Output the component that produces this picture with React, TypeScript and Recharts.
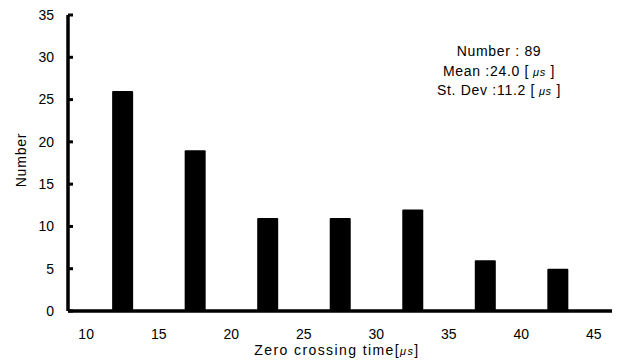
import { BarChart, Bar, XAxis, YAxis, ReferenceLine, Customized } from "recharts";

// Histogram bins (bin centres, µs) and their counts
const binCenters = [12.5, 17.5, 22.5, 27.5, 32.5, 37.5, 42.5];
const counts = [26, 19, 11, 11, 12, 6, 5];
const xTicks = [10, 15, 20, 25, 30, 35, 40, 45];
const yTicks = [0, 5, 10, 15, 20, 25, 30, 35];
const statLines = [
  { label: "Number : 89", unit: false },
  { label: "Mean :24.0 [", unit: true },
  { label: "St. Dev :11.2 [", unit: true },
];

const X_MIN = 8.75;
const X_MAX = 46.25;

const data = binCenters.map((x, i) => ({ x, count: counts[i] }));

const FONT = "'Liberation Sans', Arial, sans-serif";
const tickStyle = { fontSize: 14, fontFamily: FONT, fill: "#000" };

// y tick: label on the left, short tick mark pointing into the plot
const YTick = (props: any) => {
  const { x, y, payload } = props;
  const axisX = x + 14;
  return (
    <g>
      <line x1={axisX} x2={axisX + 5} y1={y} y2={y} stroke="#000" strokeWidth={3} />
      <text x={x} y={y} dy="0.35em" textAnchor="end" {...tickStyle}>
        {payload.value}
      </text>
    </g>
  );
};

const Annotations = () => (
  <g fontFamily={FONT} fill="#000">
    {statLines.map((s, i) => (
      <text
        key={i}
        x={499}
        y={56 + i * 19.5}
        textAnchor="middle"
        fontSize={14}
        letterSpacing={0.7}
      >
        {s.label}
        {s.unit && (
          <>
            <tspan fontStyle="italic" fontSize={11}> μs</tspan>
            <tspan> ]</tspan>
          </>
        )}
      </text>
    ))}
    <text x={337} y={355} textAnchor="middle" fontSize={14} letterSpacing={1.4}>
      Zero crossing time[
      <tspan fontStyle="italic" fontSize={11}>μs</tspan>
      ]
    </text>
    <text
      x={26}
      y={160}
      textAnchor="middle"
      fontSize={14}
      letterSpacing={0.8}
      transform="rotate(-90 26 160)"
    >
      Number
    </text>
  </g>
);

export default function App() {
  return (
    <div style={{ position: "absolute", left: 0, top: 0, background: "#fff" }}>
      <BarChart
        width={619}
        height={363}
        data={data}
        margin={{ top: 15, right: 7, left: 0, bottom: 0 }}
      >
        <XAxis
          dataKey="x"
          type="number"
          domain={[X_MIN, X_MAX]}
          ticks={xTicks}
          allowDataOverflow
          height={52}
          axisLine={false}
          tickLine={false}
          tickSize={0}
          tickMargin={18}
          tick={tickStyle}
        />
        <YAxis
          type="number"
          domain={[0, 35]}
          ticks={yTicks}
          width={68}
          axisLine={false}
          tickLine={false}
          tickSize={0}
          tickMargin={14}
          tick={<YTick />}
        />
        <Bar dataKey="count" fill="#000" barSize={21} radius={[1, 1, 0, 0]} isAnimationActive={false} />
        <ReferenceLine x={X_MIN} stroke="#000" strokeWidth={3.5} />
        <ReferenceLine y={0} stroke="#000" strokeWidth={3.5} />
        <Customized component={Annotations} />
      </BarChart>
    </div>
  );
}
